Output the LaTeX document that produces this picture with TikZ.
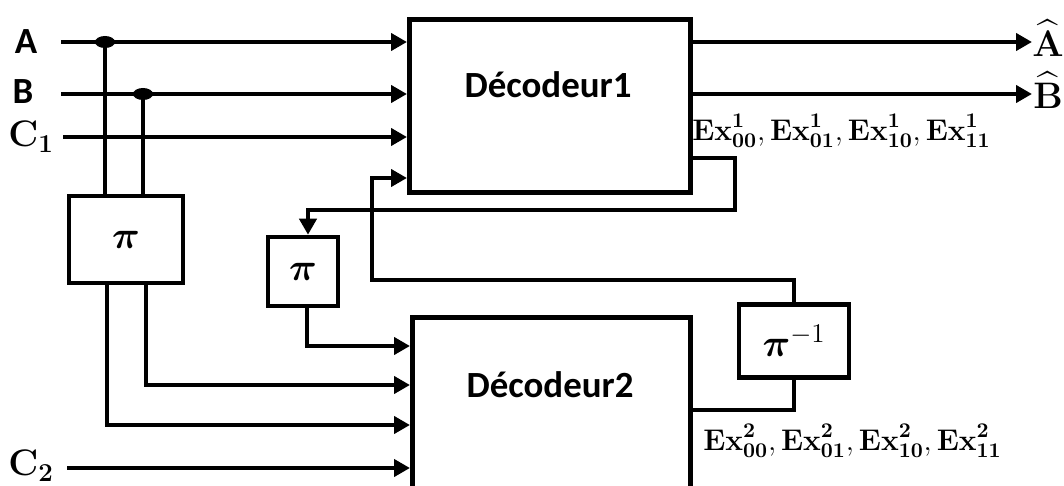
\documentclass[tikz,border=0pt]{standalone}
\usepackage{fix-cm}
\usepackage{amsmath}
\usepackage{amssymb}
\usepackage[no-math]{fontspec}
\setmainfont{Carlito}
\usepackage{tikz}
\usetikzlibrary{positioning, arrows.meta, shapes.geometric, calc}

\begin{document}
\begin{tikzpicture}[x=0.02cm, y=-0.02cm,
    bloc/.style={draw, rectangle, line width=2.6pt, fill=white, inner sep=0pt},
    fil/.style={line width=2.6pt},
    fl/.style={fil, -{Triangle[length=0.32cm, width=0.34cm]}},
    jonction/.style={fill, ellipse, minimum width=0.4cm, minimum height=0.24cm, inner sep=0pt},
    lbl/.style={font=\bfseries\fontsize{21}{24}\selectfont, inner sep=0pt},
    mlbl/.style={font=\fontsize{21}{24}\selectfont, inner sep=0pt},
    ex/.style={font=\fontsize{17}{20}\selectfont, anchor=west, inner sep=0pt}]
    \clip (0,0) rectangle (1064,486);

    % Noeuds
    \node[bloc, minimum width=5.62cm, minimum height=3.46cm, anchor=north west] (dec1) at (407,17) {};
    \node[bloc, minimum width=5.56cm, minimum height=4cm, anchor=north west] (dec2) at (410,315) {};
    \node[lbl] (t1) at (548,85) {Décodeur1};
    \node[lbl] (t2) at (550,385) {Décodeur2};
    \node[bloc, minimum width=2.28cm, minimum height=1.74cm, font=\fontsize{22}{24}\selectfont] (pi1) at (126,239.5) {$\boldsymbol{\pi}$};
    \node[bloc, minimum width=1.4cm, minimum height=1.38cm, font=\fontsize{22}{24}\selectfont] (pi2) at (303,271.5) {$\boldsymbol{\pi}$};
    \node[bloc, minimum width=2.2cm, minimum height=1.46cm, font=\fontsize{22}{24}\selectfont] (pi3) at (794,341) {$\boldsymbol{\pi}^{-1}$};
    \node[jonction] (jA) at (105,42) {};
    \node[jonction] (jB) at (143,94) {};

    % Etiquettes
    \node[lbl] (A) at (26,42) {A};
    \node[lbl] (B) at (23,92) {B};
    \node[mlbl] (C1) at (31,137) {$\mathbf{C}_{\mathbf{1}}$};
    \node[mlbl] (C2) at (31,466) {$\mathbf{C}_{\mathbf{2}}$};
    \node[mlbl] (Ah) at (1048,38) {$\widehat{\mathbf{A}}$};
    \node[mlbl] (Bh) at (1048,90) {$\widehat{\mathbf{B}}$};
    \node[ex] (ex1) at (692,131) {$\mathbf{Ex}^{\mathbf{1}}_{\mathbf{00}}, \mathbf{Ex}^{\mathbf{1}}_{\mathbf{01}}, \mathbf{Ex}^{\mathbf{1}}_{\mathbf{10}}, \mathbf{Ex}^{\mathbf{1}}_{\mathbf{11}}$};
    \node[ex] (ex2) at (703,441) {$\mathbf{Ex}^{\mathbf{2}}_{\mathbf{00}}, \mathbf{Ex}^{\mathbf{2}}_{\mathbf{01}}, \mathbf{Ex}^{\mathbf{2}}_{\mathbf{10}}, \mathbf{Ex}^{\mathbf{2}}_{\mathbf{11}}$};

    % Points de passage
    \coordinate (eA) at (61,42);
    \coordinate (eB) at (61,94);
    \coordinate (eC1) at (63,137);
    \coordinate (eC2) at (67,468);
    \coordinate (oA) at (1032,42);
    \coordinate (oB) at (1032,94);
    \coordinate (r1) at (735,158);
    \coordinate (r2) at (308,210);
    \coordinate (r3) at (372,280);
    \coordinate (in1d) at (407,178);
    \coordinate (in2a) at (410,346);
    \coordinate (in2b) at (410,385);
    \coordinate (in2c) at (410,425);
    \coordinate (o2) at (688,410);

    % Flèches
    \draw[fl] (eA) -- (eA -| dec1.west);
    \draw[fl] (eB) -- (eB -| dec1.west);
    \draw[fl] (eC1) -- (eC1 -| dec1.west);
    \draw[fil] (jA.center) -- (jA.center |- pi1.north);
    \draw[fil] (jB.center) -- (jB.center |- pi1.north);
    \draw[fl] (dec1.east |- oA) -- (oA);
    \draw[fl] (dec1.east |- oB) -- (oB);
    \draw[fl] (dec1.east |- r1) -- (r1) |- (r2) -- (r2 |- pi2.north);
    \draw[fl] ([xshift=0.08cm]pi2.south) |- (in2a);
    \draw[fl] ([xshift=0.4cm]pi1.south) |- (in2b);
    \draw[fl] ([xshift=-0.38cm]pi1.south) |- (in2c);
    \draw[fl] (eC2) -- (eC2 -| dec2.west);
    \draw[fil] (o2) -| (pi3.south);
    \draw[fl] (pi3.north) |- (r3) |- (in1d);
\end{tikzpicture}
\end{document}
